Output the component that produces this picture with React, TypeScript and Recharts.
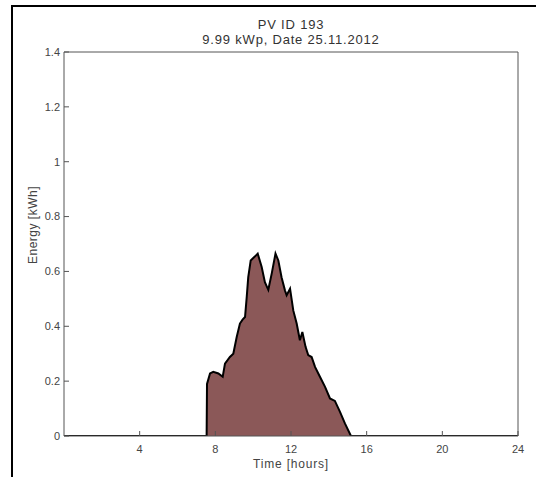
import React from 'react';
import { ComposedChart, Area, Line, XAxis, YAxis } from 'recharts';

const hours = [0, 7.54, 7.56, 7.72, 7.89, 8.16, 8.39, 8.51, 8.77, 8.95, 9.13, 9.3, 9.44, 9.57, 9.66, 9.74, 9.87, 10.1, 10.24, 10.45, 10.62, 10.8, 10.98, 11.18, 11.33, 11.5, 11.68, 11.77, 11.95, 12.12, 12.3, 12.47, 12.6, 12.77, 12.91, 13.09, 13.27, 13.53, 13.8, 14.06, 14.32, 14.59, 14.85, 15.17, 24];
const energy = [0, 0, 0.19, 0.228, 0.234, 0.228, 0.216, 0.264, 0.288, 0.3, 0.361, 0.41, 0.424, 0.434, 0.507, 0.579, 0.64, 0.655, 0.665, 0.616, 0.561, 0.533, 0.592, 0.665, 0.64, 0.579, 0.531, 0.513, 0.537, 0.458, 0.41, 0.349, 0.379, 0.325, 0.295, 0.288, 0.252, 0.216, 0.179, 0.137, 0.128, 0.088, 0.046, 0, 0];

const xTicks = [4, 8, 12, 16, 20, 24];
const yTicks = [0, 0.2, 0.4, 0.6, 0.8, 1, 1.2, 1.4];

const titleLine1 = 'PV ID 193';
const titleLine2 = '9.99 kWp, Date 25.11.2012';
const xLabel = 'Time [hours]';
const yLabel = 'Energy [kWh]';

const data = hours.map((h, i) => ({ hour: h, energy: energy[i] }));

const font = '"Liberation Sans", Arial, sans-serif';
const axisColor = '#555';
const textColor = '#444';

export default function App() {
  return (
    <div style={{ position: 'absolute', left: 0, top: 0, width: 536, height: 477, background: '#fff', fontFamily: font, overflow: 'hidden' }}>
      <div style={{ position: 'absolute', left: 11, top: 5, right: 0, height: 2, background: '#000' }} />
      <div style={{ position: 'absolute', left: 11, top: 5, bottom: 0, width: 2, background: '#000' }} />
      <div style={{ position: 'absolute', left: 141, width: 300, top: 17, textAlign: 'center', fontSize: 13, lineHeight: '15px', letterSpacing: 0.8, color: '#333' }}>
        <div>{titleLine1}</div>
        <div>{titleLine2}</div>
      </div>
      <div style={{ position: 'absolute', left: 191, width: 200, top: 457, textAlign: 'center', fontSize: 12, lineHeight: '14px', letterSpacing: 0.8, color: textColor }}>{xLabel}</div>
      <div style={{ position: 'absolute', left: 33, top: 225, width: 0, height: 0 }}>
        <div style={{ position: 'absolute', left: -100, top: -7, width: 200, textAlign: 'center', fontSize: 12, lineHeight: '14px', letterSpacing: 0.5, color: textColor, transform: 'rotate(-90deg)' }}>{yLabel}</div>
      </div>
      <div style={{ position: 'absolute', left: 0, top: 0 }}>
        <ComposedChart width={536} height={477} data={data} margin={{ top: 51, right: 17, bottom: 1, left: 24 }}>
          <XAxis dataKey="hour" type="number" domain={[0, 24]} ticks={xTicks} allowDataOverflow tickSize={-5} tickMargin={14} height={40} stroke={axisColor} tick={{ fontSize: 11, fill: textColor, fontFamily: font }} />
          <XAxis xAxisId="top" dataKey="hour" orientation="top" type="number" domain={[0, 24]} ticks={xTicks} allowDataOverflow tick={false} tickSize={-5} height={1} stroke={axisColor} />
          <YAxis type="number" domain={[0, 1.4]} ticks={yTicks} allowDataOverflow tickSize={-5} tickMargin={9} width={40} stroke={axisColor} tick={{ fontSize: 11, fill: textColor, fontFamily: font }} tickFormatter={(v: number) => String(+v.toFixed(1))} />
          <YAxis yAxisId="right" orientation="right" type="number" domain={[0, 1.4]} ticks={yTicks} allowDataOverflow tick={false} tickSize={-5} width={1} stroke={axisColor} />
          <Line xAxisId="top" yAxisId="right" type="linear" dataKey="energy" stroke="none" strokeWidth={0} dot={false} activeDot={false} isAnimationActive={false} legendType="none" />
          <Area type="linear" dataKey="energy" stroke="#000" strokeWidth={2} fill="#8b5858" fillOpacity={1} isAnimationActive={false} dot={false} activeDot={false} />
        </ComposedChart>
      </div>
    </div>
  );
}
